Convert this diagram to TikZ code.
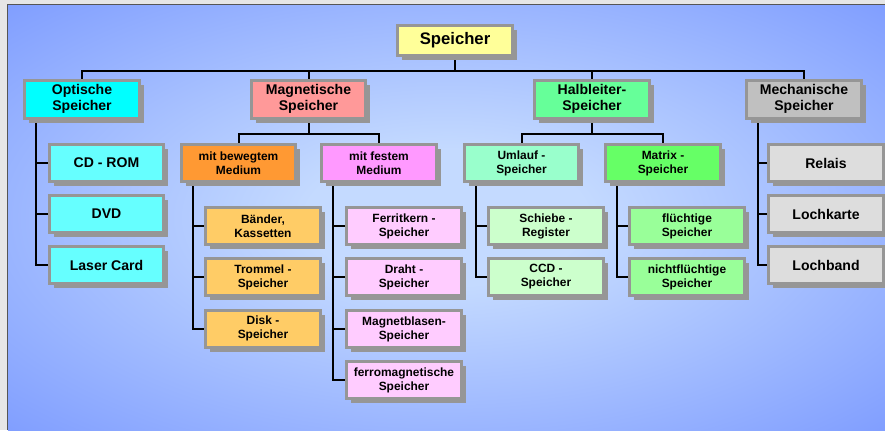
\documentclass[tikz,border=0pt]{standalone}
\usepackage{fontspec}
\setmainfont{Liberation Sans}
\usetikzlibrary{shadows,backgrounds}
\definecolor{framegray}{RGB}{230,230,230}
\definecolor{framedark}{RGB}{85,85,85}
\definecolor{bgouter}{RGB}{127,157,255}
\definecolor{bginner}{RGB}{196,218,255}
\definecolor{boxgray}{RGB}{150,150,150}
\definecolor{spYellow}{RGB}{255,255,153}
\definecolor{spCyan}{RGB}{0,255,255}
\definecolor{spCyanL}{RGB}{102,255,255}
\definecolor{spSalmon}{RGB}{255,153,153}
\definecolor{spOrange}{RGB}{255,153,51}
\definecolor{spOrangeL}{RGB}{255,204,102}
\definecolor{spPink}{RGB}{255,153,255}
\definecolor{spPinkL}{RGB}{255,204,255}
\definecolor{spMint}{RGB}{102,255,153}
\definecolor{spAqua}{RGB}{153,255,204}
\definecolor{spAquaL}{RGB}{204,255,204}
\definecolor{spGreen}{RGB}{102,255,102}
\definecolor{spGreenL}{RGB}{153,255,153}
\definecolor{spSilver}{RGB}{192,192,192}
\definecolor{spSilverL}{RGB}{221,221,221}
\pgfdeclareradialshading{bgshade}{\pgfpoint{0bp}{0bp}}{color(0bp)=(bginner); color(8bp)=(bginner); color(36bp)=(bgouter); color(50bp)=(bgouter)}

\begin{document}
\begin{tikzpicture}[x=0.02cm,y=-0.02cm,font=\bfseries\fontsize{8}{9.2}\selectfont,
  box/.style={draw=boxgray,line width=0.06cm,minimum width=2.3cm,minimum height=0.76cm,inner sep=1pt,align=center,
    general shadow={fill=boxgray,shadow xshift=0.09cm,shadow yshift=-0.09cm}},
  subbox/.style={box,minimum height=0.74cm,font=\bfseries\fontsize{6.8}{8}\selectfont},
  link/.style={line width=0.04cm}]
  \useasboundingbox (0,0) rectangle (885,430);
  \node[box,fill=spYellow,minimum height=0.6cm,font=\bfseries\fontsize{9.5}{11}\selectfont] (root) at (455,40) {Speicher};
  \node[box,fill=spCyan] (opt) at (82,99) {Optische\\Speicher};
  \node[box,fill=spSalmon] (mag) at (308.5,99) {Magnetische\\Speicher};
  \node[box,fill=spMint] (halb) at (592,99) {Halbleiter-\\Speicher};
  \node[box,fill=spSilver] (mech) at (804,99) {Mechanische\\Speicher};
  \node[box,fill=spCyanL,minimum height=0.74cm] (cdrom) at (106.5,163) {CD - ROM};
  \node[box,fill=spCyanL,minimum height=0.74cm] (dvd) at (106.5,214) {DVD};
  \node[box,fill=spCyanL,minimum height=0.74cm] (laser) at (106.5,265) {Laser Card};
  \node[subbox,fill=spOrange] (bew) at (238.5,163) {mit bewegtem\\Medium};
  \node[subbox,fill=spPink] (fest) at (379,163) {mit festem\\Medium};
  \node[subbox,fill=spAqua] (uml) at (521.5,163) {Umlauf -\\Speicher};
  \node[subbox,fill=spGreen] (mat) at (663,163) {Matrix -\\Speicher};
  \node[subbox,fill=spOrangeL] (baender) at (263,226) {Bänder,\\Kassetten};
  \node[subbox,fill=spOrangeL] (trommel) at (263,277) {Trommel -\\Speicher};
  \node[subbox,fill=spOrangeL] (disk) at (263,328.5) {Disk -\\Speicher};
  \node[subbox,fill=spPinkL] (ferrit) at (404,226) {Ferritkern -\\Speicher};
  \node[subbox,fill=spPinkL] (draht) at (404,277) {Draht -\\Speicher};
  \node[subbox,fill=spPinkL] (blasen) at (404,329) {Magnetblasen-\\Speicher};
  \node[subbox,fill=spPinkL] (ferro) at (404,380) {ferromagnetische\\Speicher};
  \node[subbox,fill=spAquaL] (schiebe) at (546,226) {Schiebe -\\Register};
  \node[subbox,fill=spAquaL] (ccd) at (546,277) {CCD -\\Speicher};
  \node[subbox,fill=spGreenL] (fluechtig) at (687,226) {flüchtige\\Speicher};
  \node[subbox,fill=spGreenL] (nichtfl) at (687,277) {nichtflüchtige\\Speicher};
  \node[box,fill=spSilverL,minimum height=0.74cm] (relais) at (826,163) {Relais};
  \node[box,fill=spSilverL,minimum height=0.74cm] (lochkarte) at (826,214) {Lochkarte};
  \node[box,fill=spSilverL,minimum height=0.74cm] (lochband) at (826,265) {Lochband};
  \begin{scope}[on background layer]
    \fill[framegray] (0,0) rectangle (885,430);
    \shade[shading=bgshade] (8,5) rectangle (885,430);
    \draw[framedark,line width=0.03cm] (7.5,430) -- (7.5,4.5) -- (885,4.5);
    \draw[link] (root.south) -- ++(0,14) coordinate (bus)
      (opt.north) |- (bus) -| (mech.north)
      (mag.north) -- (mag.north |- bus)
      (halb.north) -- (halb.north |- bus);
    \draw[link] (mag.south) -- ++(0,14) coordinate (magbus)
      (bew.north) |- (magbus) -| (fest.north);
    \draw[link] (halb.south) -- ++(0,14) coordinate (halbbus)
      (uml.north) |- (halbbus) -| (mat.north);
    \foreach \p/\c in {opt/cdrom,opt/dvd,opt/laser,bew/baender,bew/trommel,bew/disk,
      fest/ferrit,fest/draht,fest/blasen,fest/ferro,uml/schiebe,uml/ccd,
      mat/fluechtig,mat/nichtfl,mech/relais,mech/lochkarte,mech/lochband}
      \draw[link] ([xshift=0.26cm]\p.south west) |- (\c.west);
  \end{scope}
\end{tikzpicture}
\end{document}
